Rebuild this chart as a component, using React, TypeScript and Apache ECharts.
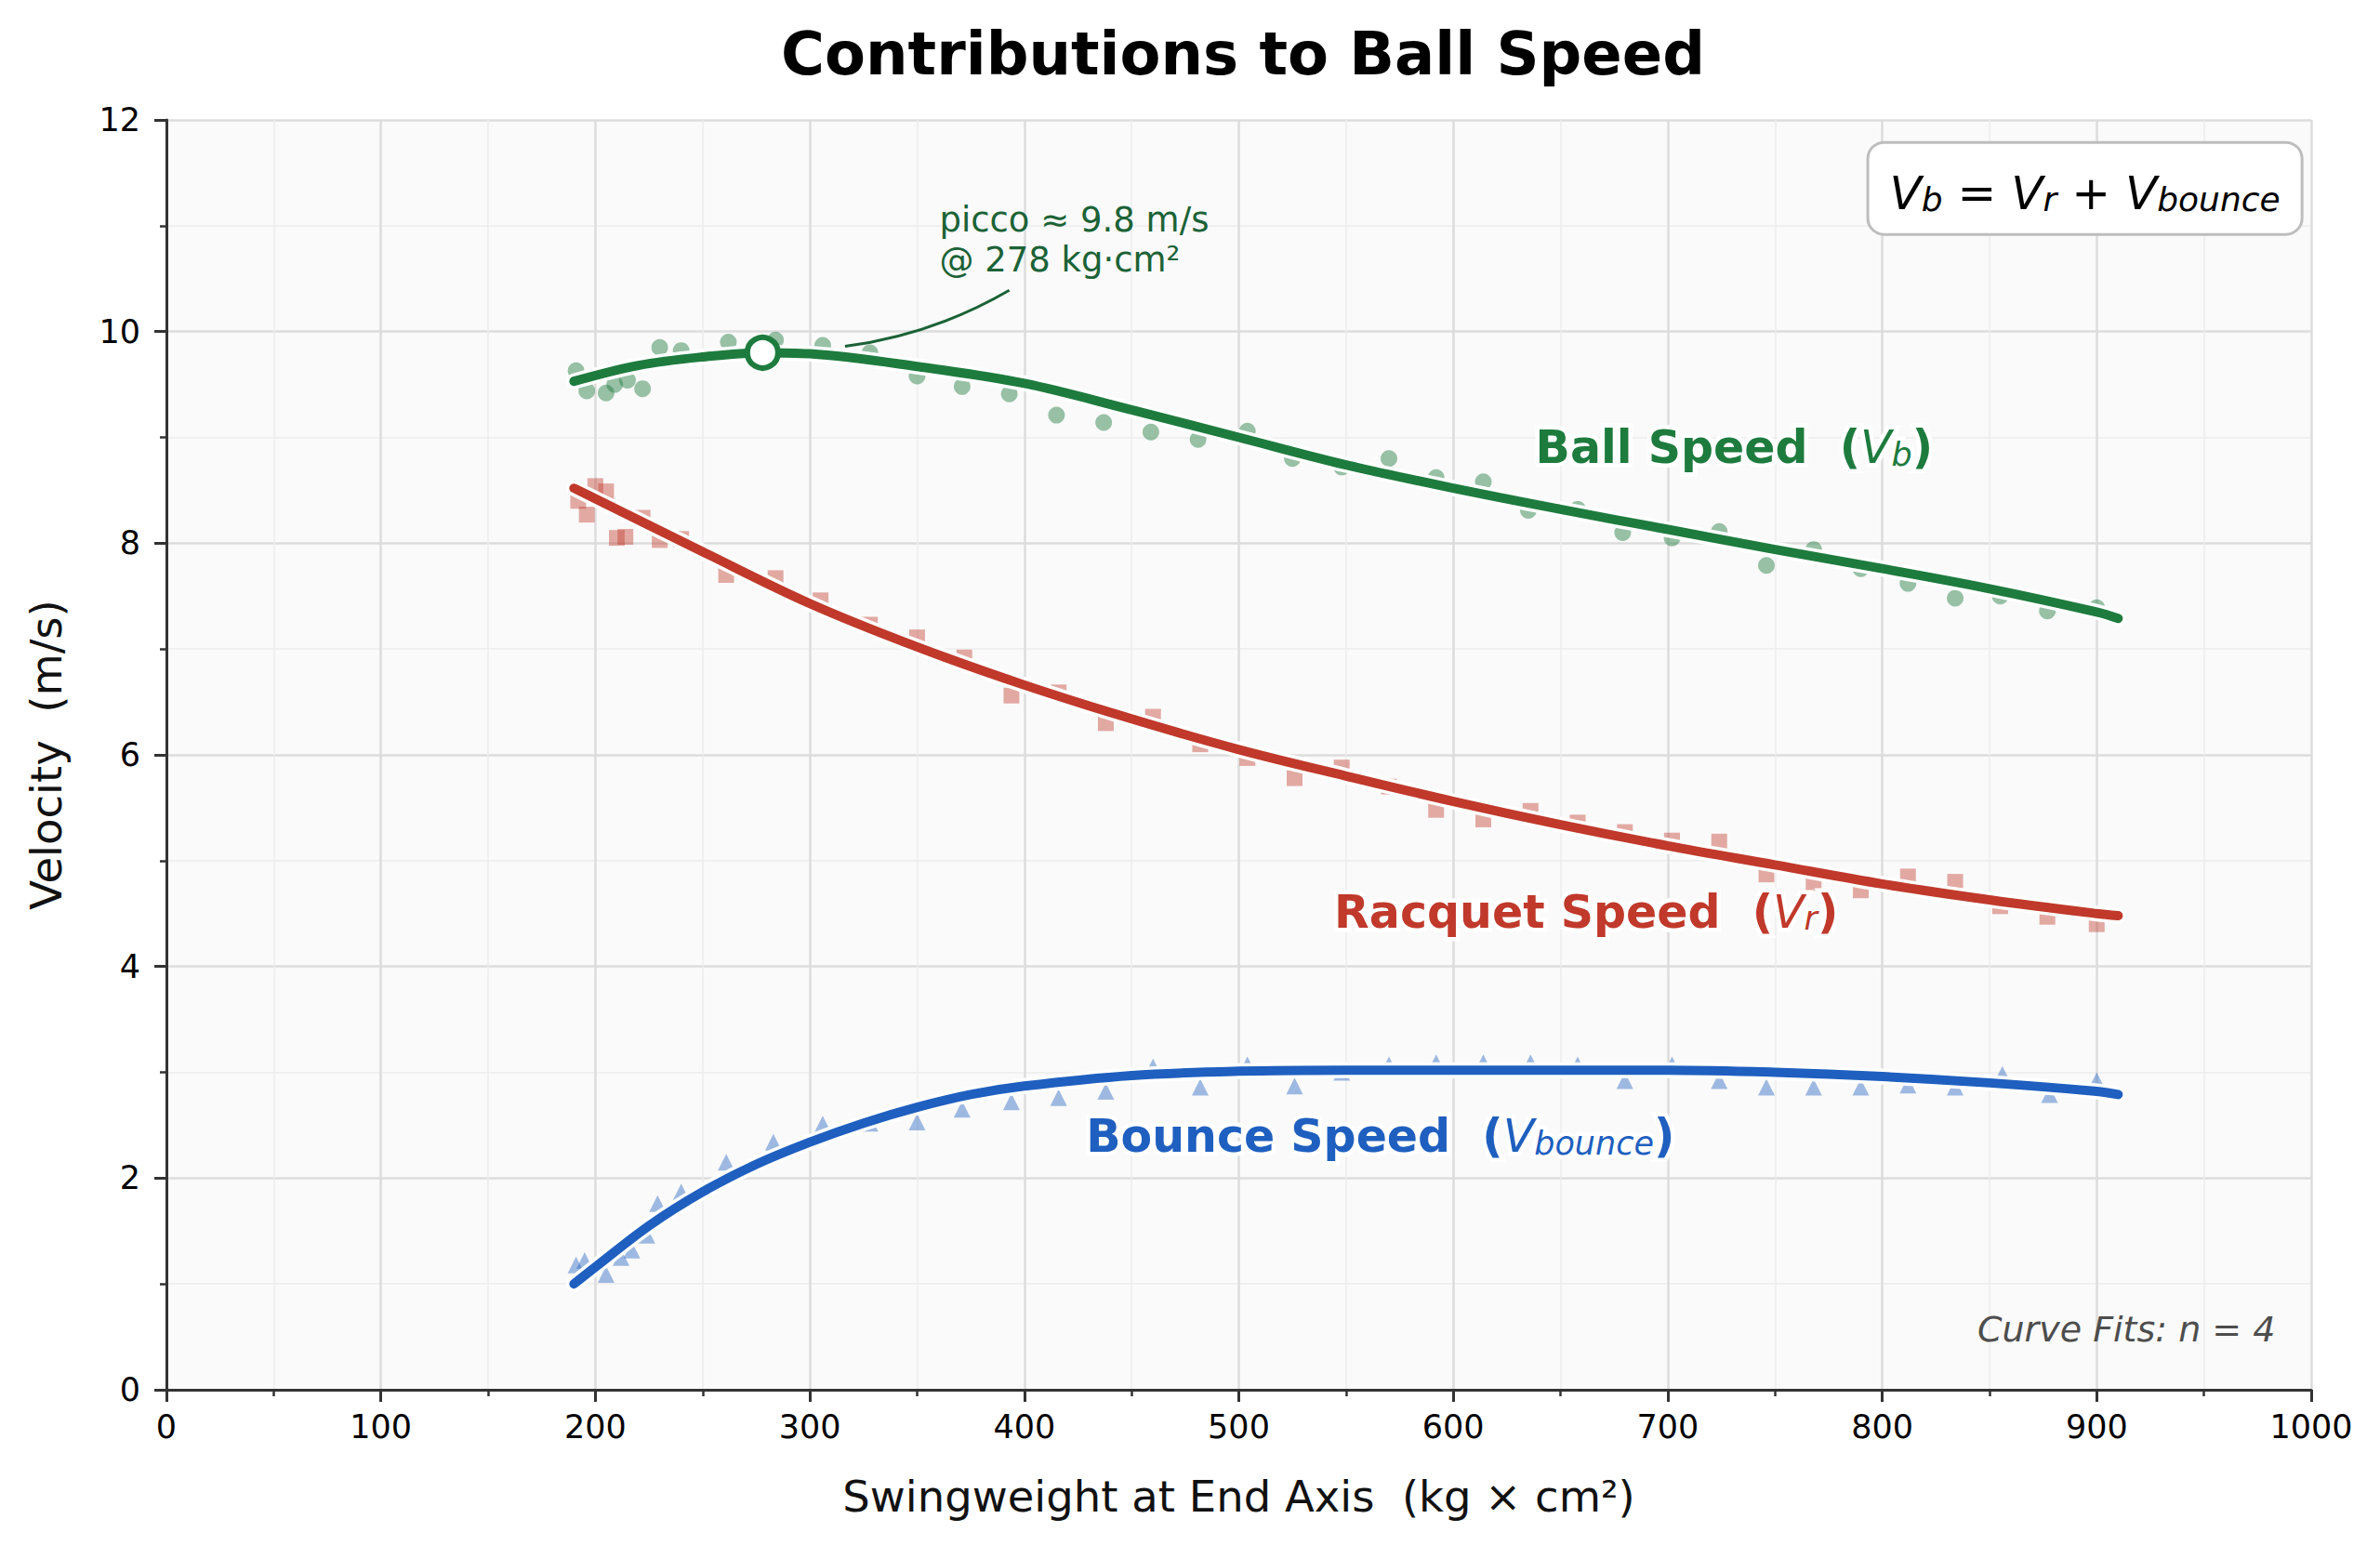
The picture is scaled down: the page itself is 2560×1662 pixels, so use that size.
import React, { useEffect, useRef } from "react";
import * as echarts from "echarts";

const FONT = "DejaVu Sans";
const GREEN = "#1e7b3e";
const RED = "#c0392b";
const BLUE = "#1f5fbf";
const ANNOT = "#1b6236";

const titleText = "Contributions to Ball Speed";
const xName = "Swingweight at End Axis  (kg × cm²)";
const yName = "Velocity  (m/s)";

// measured points
const ballPoints: [number, number][] = [
  [191, 9.63], [196, 9.44], [205, 9.42], [209, 9.5], [215, 9.54], [222, 9.46], [230, 9.85], [240, 9.82],
  [262, 9.9], [284, 9.92], [306, 9.87], [328, 9.8], [350, 9.58], [371, 9.48], [393, 9.41], [415, 9.21],
  [437, 9.14], [459, 9.05], [481, 8.98], [504, 9.06], [525, 8.8], [548, 8.72], [570, 8.8], [592, 8.62],
  [614, 8.58], [635, 8.31], [658, 8.32], [679, 8.1], [702, 8.05], [724, 8.11], [746, 7.79], [768, 7.94],
  [790, 7.76], [812, 7.62], [834, 7.48], [855, 7.5], [877, 7.36], [900, 7.39],
];
const racquetPoints: [number, number][] = [
  [192, 8.4], [196, 8.27], [200, 8.54], [205, 8.49], [210, 8.05], [214, 8.06], [222, 8.24], [230, 8.03],
  [240, 8.04], [261, 7.7], [284, 7.67], [305, 7.46], [328, 7.23], [350, 7.11], [372, 6.92], [394, 6.56],
  [416, 6.59], [438, 6.3], [460, 6.36], [482, 6.1], [504, 5.97], [526, 5.78], [548, 5.88], [570, 5.7],
  [592, 5.48], [614, 5.39], [636, 5.47], [658, 5.36], [680, 5.27], [702, 5.19], [724, 5.18], [746, 4.87],
  [768, 4.79], [790, 4.72], [812, 4.85], [834, 4.8], [855, 4.57], [877, 4.47], [900, 4.4],
];
const bouncePoints: [number, number][] = [
  [191, 1.18], [195, 1.22], [205, 1.09], [212, 1.25], [217, 1.32], [224, 1.46], [229, 1.76], [240, 1.87],
  [261, 2.15], [283, 2.34], [306, 2.51], [328, 2.52], [350, 2.53], [371, 2.65], [394, 2.72], [416, 2.76],
  [438, 2.82], [460, 3.05], [482, 2.86], [504, 3.07], [526, 2.87], [548, 3.0], [570, 3.07], [592, 3.09],
  [614, 3.09], [636, 3.09], [658, 3.07], [680, 2.92], [702, 3.07], [724, 2.92], [746, 2.86], [768, 2.86],
  [790, 2.86], [812, 2.88], [834, 2.86], [856, 2.98], [878, 2.79], [900, 2.92],
];

// fitted curves
const ballFit: [number, number][] = [
  [190, 9.53], [220, 9.68], [250, 9.76], [278, 9.8], [300, 9.79], [350, 9.67], [400, 9.51], [450, 9.26],
  [500, 9.0], [550, 8.74], [600, 8.52], [650, 8.32], [700, 8.13], [750, 7.94], [800, 7.76], [850, 7.57],
  [900, 7.35], [910, 7.29],
];
const racquetFit: [number, number][] = [
  [190, 8.52], [200, 8.42], [250, 7.92], [300, 7.43], [350, 7.02], [400, 6.66], [450, 6.34], [500, 6.05],
  [550, 5.8], [600, 5.56], [650, 5.34], [700, 5.14], [750, 4.96], [800, 4.78], [850, 4.63], [900, 4.5],
  [910, 4.48],
];
const bounceFit: [number, number][] = [
  [190, 1.0], [200, 1.16], [225, 1.55], [250, 1.87], [275, 2.13], [300, 2.34], [325, 2.52], [350, 2.67],
  [375, 2.79], [400, 2.87], [450, 2.97], [500, 3.01], [550, 3.02], [600, 3.02], [650, 3.02], [700, 3.02],
  [750, 3.0], [800, 2.96], [850, 2.9], [900, 2.82], [910, 2.79],
];

const peakPoint: [number, number] = [278, 9.8];

// annotation anchors (data coordinates)
const ballLabelAt: [number, number] = [731, 8.96];
const racquetLabelAt: [number, number] = [662, 4.57];
const bounceLabelAt: [number, number] = [566, 2.45];
const formulaAt: [number, number] = [995.3, 11.77];
const fitsNoteAt: [number, number] = [983.5, 0.57];
const peakNoteAt: [number, number] = [360.6, 11.24];
const peakArrow: [number, number][] = [[393, 10.39], [316.4, 9.86]];

const seriesLabel = (color: string, main: string, sub: string, halo: boolean) => {
  const fill = halo ? "#ffffff" : color;
  const border = halo ? { textBorderColor: "#ffffff", textBorderWidth: 9 } : { textBorderWidth: 0 };
  return {
    show: true,
    position: "inside",
    opacity: 1,
    formatter: `{t|${main}  (}{v|V}{s|${sub}}{t|)}`,
    ...border,
    rich: {
      t: { fontFamily: FONT, fontSize: 49, fontWeight: "bold", color: fill, lineHeight: 62, verticalAlign: "bottom", ...border },
      v: { fontFamily: FONT, fontSize: 49, fontStyle: "italic", fontWeight: "normal", color: fill, lineHeight: 62, verticalAlign: "bottom", ...border },
      s: { fontFamily: FONT, fontSize: 35, fontStyle: "italic", fontWeight: "normal", color: fill, lineHeight: 40, verticalAlign: "bottom", ...border },
    },
  };
};

const anchorSeries = (at: [number, number], label: any, z = 10) => ({
  type: "scatter",
  data: [at],
  symbolSize: 1,
  itemStyle: { color: "rgba(0,0,0,0)", opacity: 1 },
  silent: true,
  z,
  label,
});

export default function App() {
  const ref = useRef<HTMLDivElement>(null);
  useEffect(() => {
    if (!ref.current) return;
    const chart = echarts.init(ref.current, undefined, { renderer: "svg" });
    const fitLine = (data: [number, number][], color: string, width: number, z: number) => ({
      type: "line",
      data,
      smooth: 0.35,
      symbol: "none",
      showSymbol: false,
      silent: true,
      z,
      lineStyle: { color, width, cap: "round", join: "round" },
    });
    chart.setOption({
      animation: false,
      backgroundColor: "#ffffff",
      textStyle: { fontFamily: FONT },
      title: {
        text: titleText,
        left: 1332,
        top: 21,
        textAlign: "center",
        textStyle: { fontFamily: FONT, fontSize: 64, fontWeight: "bold", color: "#000" },
      },
      grid: {
        left: 179,
        top: 129,
        width: 2307,
        height: 1366,
        show: true,
        backgroundColor: "#fafafa",
        borderWidth: 0,
        containLabel: false,
      },
      xAxis: {
        type: "value",
        min: 0,
        max: 1000,
        interval: 100,
        name: xName,
        nameLocation: "middle",
        nameGap: 91,
        nameTextStyle: { fontFamily: FONT, fontSize: 46.5, color: "#111" },
        axisLine: { show: true, onZero: false, lineStyle: { color: "#333", width: 3 } },
        axisTick: { show: true, inside: false, length: 13, lineStyle: { color: "#333", width: 3 } },
        minorTick: { show: true, splitNumber: 2, length: 7, lineStyle: { color: "#333", width: 2.5 } },
        axisLabel: { fontFamily: FONT, fontSize: 35, color: "#000", margin: 22, formatter: (v: number) => String(v) },
        splitLine: { show: true, lineStyle: { color: "#dcdcdc", width: 2.5 } },
        minorSplitLine: { show: true, lineStyle: { color: "#ededed", width: 1.5 } },
      },
      yAxis: {
        type: "value",
        min: 0,
        max: 12,
        interval: 2,
        name: yName,
        nameLocation: "middle",
        nameGap: 106,
        nameTextStyle: { fontFamily: FONT, fontSize: 46.5, color: "#111" },
        axisLine: { show: true, onZero: false, lineStyle: { color: "#333", width: 3 } },
        axisTick: { show: true, inside: false, length: 13, lineStyle: { color: "#333", width: 3 } },
        minorTick: { show: true, splitNumber: 2, length: 7, lineStyle: { color: "#333", width: 2.5 } },
        axisLabel: { fontFamily: FONT, fontSize: 35, color: "#000", margin: 28, formatter: (v: number) => String(v) },
        splitLine: { show: true, lineStyle: { color: "#dcdcdc", width: 2.5 } },
        minorSplitLine: { show: true, lineStyle: { color: "#ededed", width: 1.5 } },
      },
      series: [
        { type: "scatter", data: ballPoints, symbol: "circle", symbolSize: 18, silent: true, z: 2, itemStyle: { color: GREEN, opacity: 0.45 } },
        { type: "scatter", data: racquetPoints, symbol: "rect", symbolSize: 17, silent: true, z: 2, itemStyle: { color: RED, opacity: 0.42 } },
        { type: "scatter", data: bouncePoints, symbol: "triangle", symbolSize: 18, silent: true, z: 2, itemStyle: { color: BLUE, opacity: 0.42 } },
        fitLine(ballFit, "#ffffff", 17, 3),
        fitLine(racquetFit, "#ffffff", 17, 3),
        fitLine(bounceFit, "#ffffff", 17, 3),
        fitLine(ballFit, GREEN, 10, 4),
        fitLine(racquetFit, RED, 10, 4),
        fitLine(bounceFit, BLUE, 10, 4),
        {
          type: "lines",
          coordinateSystem: "cartesian2d",
          silent: true,
          z: 5,
          data: [{ coords: peakArrow }],
          lineStyle: { color: ANNOT, width: 3, curveness: 0.1, opacity: 1 },
          symbol: ["none", "none"],
        },
        {
          type: "scatter",
          data: [peakPoint],
          symbol: "circle",
          symbolSize: 33,
          silent: true,
          z: 6,
          itemStyle: { color: "#ffffff", borderColor: GREEN, borderWidth: 6, opacity: 1 },
        },
        anchorSeries(ballLabelAt, seriesLabel(GREEN, "Ball Speed", "b", true), 9),
        anchorSeries(racquetLabelAt, seriesLabel(RED, "Racquet Speed", "r", true), 9),
        anchorSeries(bounceLabelAt, seriesLabel(BLUE, "Bounce Speed", "bounce", true), 9),
        anchorSeries(ballLabelAt, seriesLabel(GREEN, "Ball Speed", "b", false), 10),
        anchorSeries(racquetLabelAt, seriesLabel(RED, "Racquet Speed", "r", false), 10),
        anchorSeries(bounceLabelAt, seriesLabel(BLUE, "Bounce Speed", "bounce", false), 10),
        anchorSeries(formulaAt, {
          show: true,
          position: [0, 0],
          align: "right",
          verticalAlign: "top",
          opacity: 1,
          formatter: "{m|V}{s|b}{o| = }{m|V}{s|r}{o| + }{m|V}{s|bounce}",
          backgroundColor: "#ffffff",
          borderColor: "#bdbdbd",
          borderWidth: 3,
          borderRadius: 16,
          padding: [16, 22, 18, 22],
          rich: {
            m: { fontFamily: FONT, fontSize: 50, fontStyle: "italic", color: "#000", lineHeight: 62, verticalAlign: "bottom" },
            s: { fontFamily: FONT, fontSize: 36, fontStyle: "italic", color: "#000", lineHeight: 42, verticalAlign: "bottom" },
            o: { fontFamily: FONT, fontSize: 50, color: "#000", lineHeight: 62, verticalAlign: "bottom" },
          },
        }),
        anchorSeries(fitsNoteAt, {
          show: true,
          position: [0, 0],
          align: "right",
          verticalAlign: "middle",
          opacity: 1,
          formatter: "Curve Fits: n = 4",
          fontFamily: FONT,
          fontSize: 38,
          fontStyle: "italic",
          color: "#4d4d4d",
        }),
        anchorSeries(peakNoteAt, {
          show: true,
          position: [0, 0],
          align: "left",
          verticalAlign: "top",
          opacity: 1,
          formatter: "picco ≈ 9.8 m/s\n@ 278 kg·cm²",
          fontFamily: FONT,
          fontSize: 37,
          lineHeight: 43,
          color: ANNOT,
        }),
      ],
    });
    return () => chart.dispose();
  }, []);
  return (
    <div
      ref={ref}
      style={{ position: "absolute", left: 0, top: 0, width: 2560, height: 1662, background: "#fff" }}
    />
  );
}
